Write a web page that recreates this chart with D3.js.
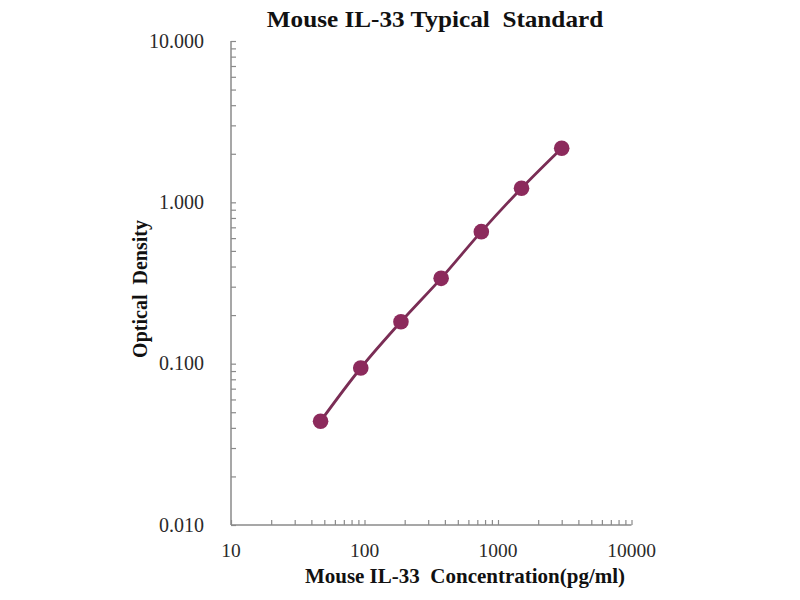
<!DOCTYPE html>
<html>
<head>
<meta charset="utf-8">
<script src="https://cdn.jsdelivr.net/npm/d3@7"></script>
<style>
  html, body { margin: 0; padding: 0; background: #fff; }
  svg { display: block; }
</style>
</head>
<body>
<svg id="chart" width="800" height="600"></svg>
<script>
// ---- data ----
const concentrations = [46.875, 93.75, 187.5, 375, 750, 1500, 3000];
const opticalDensity = [0.044, 0.094, 0.182, 0.338, 0.658, 1.223, 2.165];
const xTickValues = [10, 100, 1000, 10000];
const yTickValues = [0.01, 0.1, 1, 10];
const titleText = "Mouse IL-33 Typical\u00a0 Standard";
const xTitleText = "Mouse IL-33\u00a0 Concentration(pg/ml)";
const yTitleText = "Optical\u00a0 Density";

(function () {
const svg = d3.select("#chart");
const mLeft = 231, mRight = 631.5, mTop = 41, mBottom = 525;

const x = d3.scaleLog().domain([10, 10000]).range([mLeft, mRight]);
const y = d3.scaleLog().domain([0.01, 10]).range([mBottom, mTop]);

const serif = "'Liberation Serif', 'Times New Roman', serif";
const axisColor = "#8a8a8a";

function minorTicks(domain) {
  const out = [];
  for (let d = domain[0]; d < domain[1]; d *= 10) {
    for (let k = 1; k <= 10; k++) out.push(d * k);
  }
  return Array.from(new Set(out.map(v => +v.toPrecision(6))));
}

// x axis
const xAxis = d3.axisBottom(x).tickValues(minorTicks([10, 10000])).tickSize(-5).tickFormat("");
const gx = svg.append("g").attr("transform", `translate(0,${mBottom})`).call(xAxis);
gx.select(".domain").attr("stroke", axisColor).attr("stroke-width", 1.5).attr("d", `M${mLeft},0H${mRight}`);
gx.selectAll(".tick line").attr("stroke", axisColor).attr("stroke-width", 1.2);

// y axis
const yAxis = d3.axisLeft(y).tickValues(minorTicks([0.01, 10])).tickSize(-5).tickFormat("");
const gy = svg.append("g").attr("transform", `translate(${mLeft},0)`).call(yAxis);
gy.select(".domain").attr("stroke", axisColor).attr("stroke-width", 1.5).attr("d", `M0,${mTop}V${mBottom}`);
gy.selectAll(".tick line").attr("stroke", axisColor).attr("stroke-width", 1.2);

// tick labels
svg.append("g").selectAll("text").data(xTickValues).join("text")
  .attr("x", d => x(d)).attr("y", 557)
  .attr("text-anchor", "middle")
  .attr("font-family", serif).attr("font-size", 19.5).attr("fill", "#2a2a2a")
  .text(d => d);

svg.append("g").selectAll("text").data(yTickValues).join("text")
  .attr("x", 204).attr("y", d => y(d) + 6.5)
  .attr("text-anchor", "end")
  .attr("font-family", serif).attr("font-size", 20).attr("fill", "#2a2a2a")
  .text(d => d3.format(".3f")(d));

// titles
svg.append("text").attr("transform", "translate(435,27) scale(1.05,1)").attr("text-anchor", "middle")
  .attr("font-family", serif).attr("font-weight", "bold").attr("font-size", 24).attr("fill", "#111")
  .text(titleText);

svg.append("text").attr("x", 465).attr("y", 583).attr("text-anchor", "middle")
  .attr("font-family", serif).attr("font-weight", "bold").attr("font-size", 21).attr("fill", "#111")
  .text(xTitleText);

svg.append("text").attr("transform", "translate(147,289) rotate(-90)").attr("text-anchor", "middle")
  .attr("font-family", serif).attr("font-weight", "bold").attr("font-size", 20).attr("fill", "#111")
  .text(yTitleText);

// data
const pts = concentrations.map((c, i) => [c, opticalDensity[i]]);
const line = d3.line().x(d => x(d[0])).y(d => y(d[1])).curve(d3.curveCatmullRom);
svg.append("path").datum(pts).attr("d", line)
  .attr("fill", "none").attr("stroke", "#7a2d55").attr("stroke-width", 2.8);

svg.append("g").selectAll("circle").data(pts).join("circle")
  .attr("cx", d => x(d[0])).attr("cy", d => y(d[1])).attr("r", 7.8)
  .attr("fill", "#8c2a5c");
})();
</script>
</body>
</html>
